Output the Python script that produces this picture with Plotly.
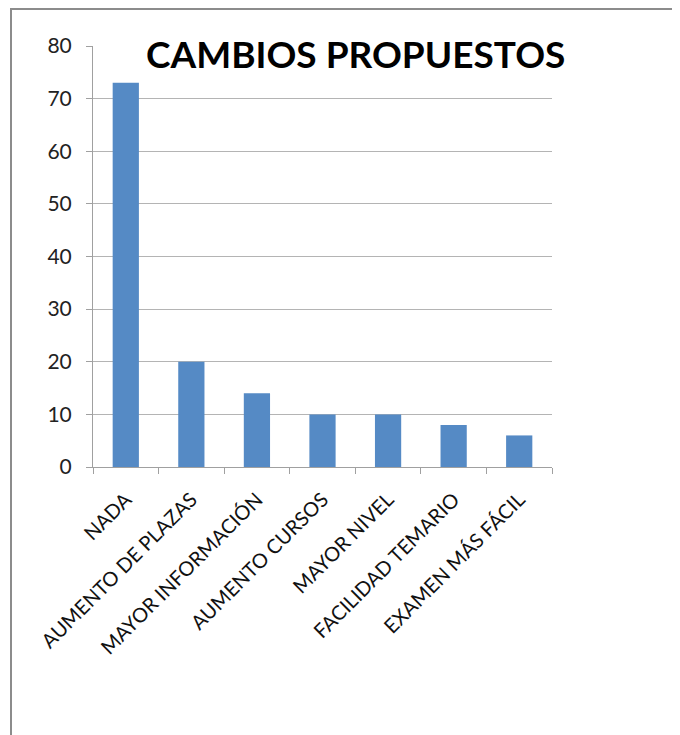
import plotly.graph_objects as go

categories = ["NADA", "AUMENTO DE PLAZAS", "MAYOR INFORMACIÓN", "AUMENTO CURSOS",
              "MAYOR NIVEL", "FACILIDAD TEMARIO", "EXAMEN MÁS FÁCIL"]
values = [73, 20, 14, 10, 10, 8, 6]
y_ticks = [0, 10, 20, 30, 40, 50, 60, 70, 80]
title_text = "CAMBIOS PROPUESTOS"

W, H = 680, 735
L, R, T, B = 85, 136, 38, 276
pw, ph = W - L - R, H - T - B

def px_x(x):
    return (x - L) / pw

def px_y(y):
    return 1 - (y - T) / ph

fig = go.Figure(go.Bar(x=categories, y=values, marker=dict(color="#558ac5", line=dict(width=0)),
                       hoverinfo="x+y"))

fig.update_layout(
    width=W, height=H,
    margin=dict(l=L, r=R, t=T, b=B),
    paper_bgcolor="white", plot_bgcolor="white",
    bargap=0.6,
    showlegend=False,
    font=dict(family="Lato, Carlito, sans-serif", color="#222", size=20),
    xaxis=dict(showgrid=False, showline=True, linecolor="#a0a0a0", linewidth=1,
               ticks="outside", ticklen=6, tickcolor="#a0a0a0", tickson="boundaries",
               tickangle=-45, ticklabelstandoff=12, tickfont=dict(size=20, color="#111")),
    yaxis=dict(range=[0, 80], tickvals=y_ticks, showgrid=True, gridcolor="#b4b4b4", gridwidth=1,
               showline=True, linecolor="#a0a0a0", linewidth=1, ticks="outside", ticklen=6,
               tickcolor="#a0a0a0", zeroline=False, ticklabelstandoff=10,
               tickfont=dict(size=21, color="#222")),
    annotations=[dict(text="<b>" + title_text + "</b>", xref="paper", yref="paper",
                      x=px_x(347), y=px_y(46), xanchor="center", yanchor="middle",
                      showarrow=False, font=dict(size=37, color="black", family="Lato, sans-serif"))],
    shapes=[dict(type="rect", xref="paper", yref="paper",
                 x0=px_x(3), x1=px_x(720), y0=px_y(760), y1=px_y(1),
                 line=dict(color="#8c8c8c", width=2), layer="above")],
)

fig.write_html("out.html")
